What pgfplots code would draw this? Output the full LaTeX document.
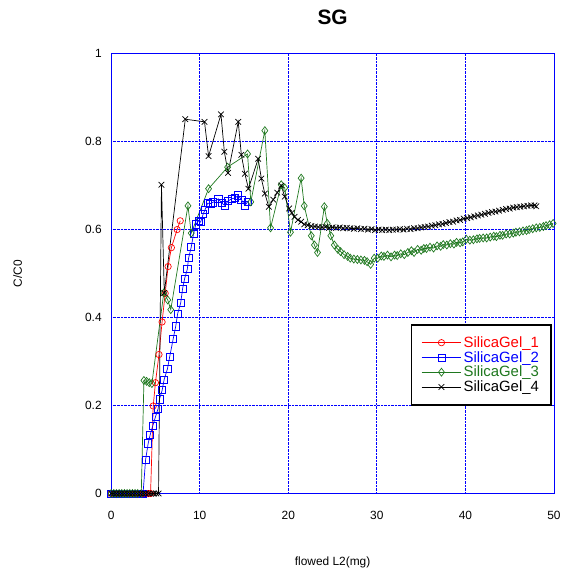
\documentclass[border=0pt]{standalone}
\usepackage{fontspec}
\setmainfont{Liberation Sans}
\usepackage{pgfplots}
\pgfplotsset{compat=1.18}
\definecolor{sgred}{rgb}{1,0,0}
\definecolor{sgblue}{rgb}{0,0,1}
\definecolor{sggreen}{rgb}{0.12,0.47,0.12}
\begin{document}
\begin{tikzpicture}
\begin{axis}[
  width=446pt, height=443pt, scale only axis,
  xmin=0, xmax=50, ymin=0, ymax=1,
  xtick={0,10,20,30,40,50},
  ytick={0,0.2,0.4,0.6,0.8,1},
  yticklabels={0,0.2,0.4,0.6,0.8,1},
  /pgf/number format/assume math mode=true,
  tick label style={font=\fontsize{12}{14}\selectfont},
  xticklabel style={yshift=-14pt},
  yticklabel style={xshift=-6pt},
  axis line style={sgblue, line width=0.8pt},
  major tick length=0pt,
  grid=major,
  major grid style={sgblue, densely dotted, line width=0.8pt},
  title={\textbf{SG}},
  title style={font=\fontsize{21}{24}\selectfont, at={(axis description cs:0.5,1.07)}, anchor=center},
  xlabel={flowed L2(mg)},
  ylabel={C/C0},
  xlabel style={font=\fontsize{12}{14}\selectfont, at={(axis description cs:0.5,-0.156)}, anchor=center},
  ylabel style={font=\fontsize{12}{14}\selectfont, at={(axis description cs:-0.211,0.5)}, anchor=center},
  clip=false,
  legend style={at={(axis description cs:0.676,0.386)}, anchor=north west, draw=black, line width=1.8pt, font=\fontsize{15}{17}\selectfont, inner xsep=10pt, inner ysep=10pt, row sep=-1.5pt},
  legend cell align=left,
  legend image code/.code={\draw[mark repeat=2,mark phase=2, line width=0.7pt] plot coordinates {(0cm,0cm) (0.7cm,0cm) (1.4cm,0cm)};},
]
\path[draw=none] (rel axis cs:-0.251,-0.167) rectangle (rel axis cs:1.018,1.122);
\addplot[sgred, line width=0.7pt, mark=o, mark size=3.2pt, mark options={solid}] coordinates {
(0,0)(0.3,0)(0.6,0)(0.9,0)(1.2,0)(1.5,0)(1.8,0)(2.1,0)(2.4,0)(2.7,0)(3.0,0)(3.3,0)(3.6,0)(3.9,0)(4.2,0)(4.45,0)
(4.75,0.199)(5.0,0.252)(5.4,0.316)(5.75,0.39)(6.1,0.455)(6.43,0.516)(6.8,0.559)(7.45,0.6)(7.8,0.62)
};
\addlegendentry{\textcolor{sgred}{SilicaGel\_1}}
\addplot[sgblue, line width=0.7pt, mark=square, mark size=3.6pt, mark options={solid}] coordinates {
(0,0)(0.3,0)(0.6,0)(0.9,0)(1.2,0)(1.5,0)(1.8,0)(2.1,0)(2.4,0)(2.7,0)(3.0,0)(3.3,0)(3.6,0)
(3.89,0.077)(4.18,0.114)(4.4,0.133)(4.7,0.154)(5.0,0.174)(5.3,0.193)(5.45,0.214)(5.76,0.235)(5.98,0.259)(6.35,0.283)(6.6,0.31)
(7.0,0.351)(7.29,0.38)(7.51,0.409)(7.85,0.433)(8.07,0.466)(8.3,0.489)(8.6,0.51)(8.74,0.535)(9.04,0.56)(9.3,0.59)(9.56,0.612)
(9.87,0.62)(10.1,0.617)(10.4,0.636)(10.6,0.645)(10.9,0.66)(11.2,0.659)(11.5,0.662)(12.1,0.67)(12.5,0.66)(12.85,0.655)
(13.2,0.665)(13.6,0.67)(14.0,0.672)(14.35,0.678)(14.7,0.668)(15.1,0.655)(15.4,0.663)
};
\addlegendentry{\textcolor{sgblue}{SilicaGel\_2}}
\addplot[sggreen, line width=0.7pt, mark=diamond, mark size=4pt, mark options={solid}] coordinates {
(0,0)(0.3,0)(0.6,0)(0.9,0)(1.2,0)(1.5,0)(1.8,0)(2.1,0)(2.4,0)(2.7,0)(3.0,0)(3.4,0)
(3.7,0.257)(4.0,0.255)(4.3,0.252)(4.6,0.25)(5.94,0.456)(6.39,0.44)(6.73,0.418)(8.67,0.654)(9.04,0.592)(11.0,0.693)
(13.15,0.742)(15.4,0.772)(15.77,0.663)(17.35,0.825)(18.0,0.604)(19.2,0.702)(19.6,0.695)(20.25,0.594)(21.45,0.717)
(21.8,0.654)(22.6,0.586)(22.95,0.565)(23.3,0.548)(24.07,0.652)(24.4,0.614)(24.8,0.586)(25.2,0.565)(25.6,0.555)
(25.9,0.55)(26.3,0.543)(26.7,0.539)(27.0,0.535)(27.4,0.533)(27.8,0.532)(28.2,0.531)(28.6,0.53)(28.9,0.527)(29.3,0.521)
(29.7,0.535)(30.1,0.535)(30.5,0.54)(30.8,0.539)(31.2,0.542)(31.6,0.538)(32.0,0.542)(32.3,0.541)(32.7,0.545)(33.1,0.543)
(33.5,0.548)(33.9,0.552)(34.2,0.548)(34.6,0.555)(35.0,0.553)(35.3,0.557)(35.6,0.557)(36.0,0.56)(36.4,0.558)(36.8,0.563)
(37.2,0.562)(37.5,0.566)(37.9,0.565)(38.3,0.568)(38.7,0.567)(39.0,0.571)(39.4,0.57)(39.7,0.572)(40.1,0.578)(40.5,0.576)
(40.9,0.577)(41.3,0.579)(41.6,0.58)(42.0,0.581)(42.4,0.581)(42.8,0.583)(43.2,0.585)(43.5,0.584)(43.9,0.587)(44.2,0.587)
(44.6,0.59)(45.0,0.59)(45.4,0.592)(45.7,0.594)(46.1,0.595)(46.5,0.597)(46.9,0.598)(47.2,0.6)(47.6,0.602)(48.0,0.604)
(48.4,0.605)(48.8,0.607)(49.1,0.609)(49.5,0.611)(49.9,0.614)
};
\addlegendentry{\textcolor{sggreen}{SilicaGel\_3}}
\addplot[black, line width=0.7pt, mark=x, mark size=4pt, mark options={solid}] coordinates {
(0,0)(0.3,0)(0.6,0)(0.9,0)(1.2,0)(1.5,0)(1.8,0)(2.1,0)(2.4,0)(2.7,0)(3.0,0)(3.3,0)(3.6,0)(3.9,0)(4.2,0)(4.5,0)(4.8,0)(5.1,0)(5.35,0)
(5.68,0.702)(6.0,0.456)(8.37,0.851)(10.54,0.845)(11.0,0.767)(12.4,0.862)(12.78,0.777)(13.2,0.729)(14.35,0.845)(14.7,0.77)
(15.1,0.727)(15.5,0.693)(16.6,0.761)(16.96,0.716)(17.35,0.682)(17.8,0.652)(18.3,0.668)(18.75,0.684)(19.2,0.70)(19.6,0.675)
(20.1,0.648)(20.4,0.638)(20.7,0.629)(21.1,0.622)(21.45,0.618)(21.8,0.612)(22.2,0.61)(22.6,0.608)
(23.0,0.607)(23.4,0.606)(23.8,0.605)(24.2,0.606)(24.6,0.604)(25.0,0.605)(25.4,0.604)(25.8,0.605)(26.2,0.603)(26.6,0.604)
(27.0,0.603)(27.4,0.602)(27.8,0.603)(28.2,0.601)(28.6,0.602)(29.0,0.6)(29.4,0.601)(29.8,0.599)(30.2,0.6)(30.6,0.599)
(31.0,0.6)(31.4,0.599)(31.8,0.6)(32.2,0.6)(32.6,0.601)(33.0,0.6)(33.4,0.602)(33.8,0.601)(34.2,0.603)(34.6,0.603)
(35.0,0.605)(35.4,0.606)(35.8,0.607)(36.2,0.609)(36.6,0.61)(37.0,0.612)(37.4,0.613)(37.8,0.615)(38.2,0.617)(38.6,0.618)
(39.0,0.621)(39.4,0.622)(39.8,0.625)(40.2,0.626)(40.6,0.628)(41.0,0.63)(41.4,0.632)(41.8,0.634)(42.2,0.636)(42.6,0.638)
(43.0,0.64)(43.4,0.641)(43.8,0.643)(44.2,0.645)(44.6,0.647)(45.0,0.648)(45.4,0.65)(45.8,0.651)(46.2,0.652)(46.6,0.653)
(47.0,0.654)(47.4,0.655)(47.8,0.655)(48.0,0.653)
};
\addlegendentry{SilicaGel\_4}
\end{axis}
\end{tikzpicture}
\end{document}
